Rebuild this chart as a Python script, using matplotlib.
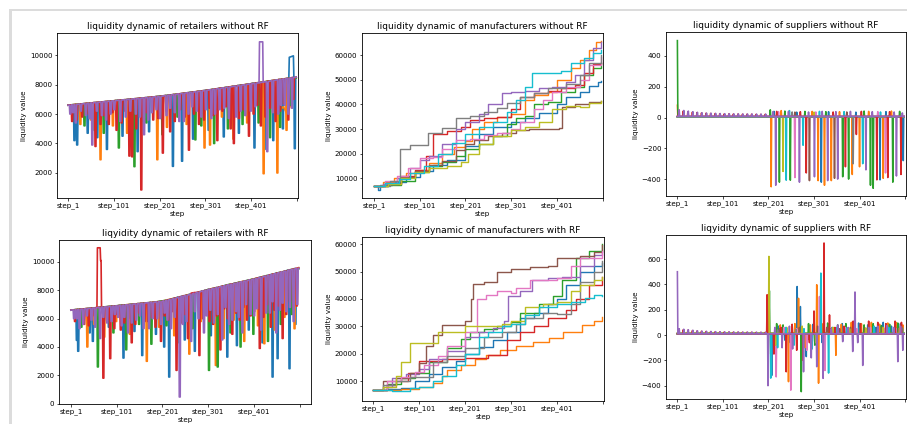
import matplotlib
matplotlib.use("Agg")
import matplotlib.pyplot as plt
from matplotlib.patches import Rectangle

# -----------------------------
# 1. Data
# -----------------------------

step_ticks = [0, 100, 200, 300, 400, 500]
step_labels = ["step_1", "step_101", "step_201", "step_301", "step_401", ""]

# retailers: each dip is (step, level just before the dip, bottom of the dip)
ret_norf_blue = [(13, 6640, 4200), (19, 6660, 3900), (42, 6730, 4700), (63, 6790, 4400),
                 (84, 6850, 3600), (118, 6950, 4500), (151, 7050, 3450), (176, 7130, 4800),
                 (228, 7310, 2450), (248, 7390, 2800), (272, 7490, 4300), (306, 7630, 4900),
                 (339, 7780, 4450), (372, 7930, 4700), (406, 8090, 3700), (428, 8190, 3600),
                 (447, 8280, 4200), (468, 8370, 5000), (494, 8490, 3650)]
ret_norf_orange = [(26, 6680, 5300), (49, 6750, 5600), (70, 6810, 2900), (97, 6890, 5200),
                   (128, 6980, 4700), (160, 7080, 5500), (194, 7180, 2900), (215, 7260, 5100),
                   (258, 7430, 5300), (297, 7590, 3700), (309, 7640, 3900), (335, 7760, 5800),
                   (360, 7880, 4300), (390, 8010, 5400), (426, 8180, 1950), (456, 8320, 2000),
                   (476, 8410, 4900)]
ret_norf_green = [(35, 6700, 5200), (57, 6770, 4900), (77, 6830, 4700), (110, 6930, 3700),
                  (138, 7010, 5000), (144, 7030, 2430), (170, 7110, 5400), (205, 7220, 4600),
                  (238, 7350, 5800), (277, 7510, 4250), (290, 7560, 5200), (318, 7680, 4000),
                  (348, 7820, 5000), (380, 7970, 5300), (415, 8130, 5400), (440, 8240, 4400),
                  (462, 8340, 5100), (484, 8440, 6600)]
ret_norf_red = [(8, 6620, 5500), (30, 6690, 5800), (59, 6780, 3800), (88, 6860, 5300),
                (105, 6920, 4900), (133, 7000, 3150), (139, 7020, 3100), (159, 7080, 850),
                (185, 7160, 5600), (206, 7220, 3350), (222, 7290, 4800), (263, 7450, 3550),
                (285, 7540, 5300), (325, 7720, 4200), (354, 7850, 5000), (361, 7880, 4000),
                (394, 8030, 4500), (420, 8150, 5200), (452, 8300, 5500), (480, 8420, 5600),
                (491, 8480, 7000)]
ret_norf_red_shallow = [(18, 6655, 5600), (44, 6730, 6000), (70, 6810, 5300), (78, 6835, 5900),
                        (96, 6890, 6100), (116, 6950, 5400), (124, 6970, 6200), (148, 7045, 5000),
                        (170, 7110, 6100), (196, 7190, 5700), (214, 7255, 6200), (232, 7330, 5500),
                        (244, 7375, 6300), (254, 7415, 5800), (274, 7495, 6000), (296, 7585, 5600),
                        (308, 7635, 6400), (316, 7675, 5900), (336, 7765, 6200), (344, 7800, 6500),
                        (372, 7930, 5700), (382, 7975, 6300), (404, 8080, 6000), (412, 8115, 6600),
                        (430, 8200, 5800), (440, 8245, 6400), (462, 8345, 6200), (470, 8380, 6700)]
ret_norf_purple = [(4, 6610, 6000), (16, 6650, 5400), (38, 6710, 5900), (52, 6760, 3900),
                   (73, 6820, 5900), (92, 6880, 6000), (113, 6940, 5500), (125, 6980, 5800),
                   (147, 7040, 6000), (165, 7100, 4600), (182, 7150, 6100), (200, 7200, 5700),
                   (232, 7330, 6100), (252, 7410, 5500), (280, 7520, 6200), (312, 7660, 5700),
                   (330, 7740, 6300), (366, 7900, 5800), (398, 8050, 6200), (434, 8200, 3450),
                   (458, 8330, 6000), (472, 8390, 6600), (488, 8460, 6400)]
ret_norf_purple_shallow = [(10, 6630, 6100), (27, 6680, 6200), (46, 6740, 5700), (62, 6790, 6200),
                           (82, 6850, 5600), (100, 6900, 6300), (135, 7005, 6200), (156, 7070, 5800),
                           (174, 7120, 5600), (192, 7175, 6300), (214, 7255, 5900), (222, 7290, 6400),
                           (242, 7370, 5500), (262, 7450, 6000), (270, 7480, 6500), (290, 7560, 5800),
                           (300, 7600, 6300), (320, 7690, 6000), (340, 7785, 6400), (350, 7830, 5700),
                           (376, 7950, 6200), (386, 7995, 5900), (408, 8095, 6500), (446, 8270, 6100),
                           (464, 8355, 6600), (480, 8430, 6000)]
ret_norf_end = [8500, 8450, 8450, 8500, 8500]
# plateaus that leave the trend
ret_norf_blue_jump = [(482, 8440), (483, 9850), (492, 9950), (493, 8480)]
ret_norf_orange_low = [(460, 8330), (461, 6200), (470, 6500), (478, 6000), (486, 6600), (487, 8450)]
ret_norf_purple_jump = [(417, 8130), (418, 10900), (425, 10900), (426, 8160)]

ret_rf_blue = [(12, 6640, 4470), (15, 6650, 3700), (40, 6720, 5000), (47, 6750, 4400),
               (82, 6850, 5400), (114, 6950, 3220), (138, 7030, 5100), (155, 7080, 3400),
               (185, 7170, 4900), (203, 7250, 4000), (214, 7340, 1880), (248, 7620, 4500),
               (270, 7800, 3700), (305, 8090, 4800), (341, 8360, 3290), (362, 8520, 4100),
               (388, 8710, 5200), (418, 8950, 4300), (440, 9130, 1880), (451, 9220, 3180),
               (477, 9430, 2470), (490, 9540, 5600)]
ret_rf_orange = [(35, 6710, 4000), (50, 6760, 5600), (72, 6820, 4700), (98, 6900, 5800),
                 (128, 7000, 4900), (165, 7110, 2990), (192, 7200, 5400), (225, 7430, 4800),
                 (258, 7700, 3500), (283, 7910, 5800), (316, 8170, 2700), (333, 8300, 4600),
                 (355, 8460, 5900), (378, 8640, 4400), (408, 8870, 5500), (422, 8980, 4235),
                 (445, 9160, 5200), (466, 9330, 6100), (488, 9500, 5290)]
ret_rf_green = [(22, 6670, 5400), (58, 6780, 2590), (92, 6890, 5000), (120, 6970, 3800),
                (148, 7060, 5600), (175, 7140, 4200), (208, 7290, 5500), (236, 7520, 4300),
                (265, 7750, 5300), (301, 8060, 2350), (320, 8200, 2590), (348, 8430, 5000),
                (370, 8580, 4000), (398, 8790, 4900), (430, 9050, 4400), (458, 9270, 5600),
                (482, 9470, 6300)]
ret_rf_red = [(28, 6690, 5600), (70, 6820, 1800), (85, 6860, 3180), (108, 6930, 5200),
              (132, 7010, 4300), (160, 7090, 5800), (196, 7210, 4400), (230, 7470, 2350),
              (255, 7660, 4600), (280, 7880, 3400), (310, 8130, 5600), (326, 8250, 3800),
              (352, 8460, 4900), (384, 8680, 5900), (412, 8900, 3900), (436, 9100, 5400),
              (462, 9300, 4600), (493, 9560, 6900)]
ret_rf_red_shallow = [(8, 6625, 5800), (16, 6650, 6100), (38, 6720, 5500), (46, 6745, 6200),
                      (78, 6840, 5900), (94, 6890, 5300), (100, 6910, 6300), (116, 6960, 5700),
                      (124, 6985, 6000), (140, 7035, 5600), (148, 7060, 6400), (168, 7120, 5800),
                      (176, 7145, 6100), (184, 7170, 5400), (204, 7255, 6200), (212, 7320, 5900),
                      (220, 7385, 6500), (240, 7550, 5700), (248, 7620, 6300), (288, 7950, 6000),
                      (296, 8020, 6600), (302, 8065, 5800), (318, 8185, 6200), (334, 8305, 6700),
                      (342, 8365, 6000), (360, 8500, 6400), (368, 8560, 5900), (376, 8620, 6800),
                      (392, 8740, 6200), (400, 8800, 6500), (420, 8965, 6100), (428, 9030, 7000),
                      (444, 9160, 6600), (452, 9225, 6900), (470, 9375, 6300), (478, 9440, 7200),
                      (486, 9505, 6700)]
ret_rf_purple = [(6, 6620, 6000), (18, 6660, 5300), (44, 6740, 5900), (63, 6800, 4600),
                 (78, 6840, 5700), (102, 6910, 6100), (124, 6980, 5000), (142, 7040, 5900),
                 (170, 7130, 5300), (188, 7180, 6000), (218, 7370, 5300), (237, 7530, 470),
                 (244, 7590, 5600), (262, 7730, 4400), (290, 7970, 5000), (296, 8020, 6200),
                 (330, 8280, 4500), (345, 8400, 5600), (374, 8610, 5000), (392, 8740, 6300),
                 (415, 8920, 5200), (426, 9010, 6400), (448, 9190, 5000), (470, 9360, 6500),
                 (486, 9490, 5800), (494, 9550, 7000)]
ret_rf_purple_shallow = [(12, 6640, 6000), (26, 6680, 5600), (34, 6705, 6200), (52, 6760, 5400),
                         (70, 6815, 6100), (88, 6875, 5800), (95, 6895, 6300), (110, 6940, 5500),
                         (116, 6960, 6100), (132, 7010, 5700), (150, 7065, 6200), (158, 7090, 5300),
                         (178, 7150, 6000), (196, 7210, 5600), (204, 7255, 6400), (210, 7305, 5900),
                         (226, 7435, 6100), (252, 7650, 5800), (270, 7800, 6500), (278, 7870, 6000),
                         (304, 8080, 6600), (312, 8140, 5700), (320, 8200, 6300), (337, 8330, 6800),
                         (352, 8440, 5900), (360, 8500, 6500), (366, 8545, 6100), (382, 8665, 7000),
                         (400, 8800, 6200), (406, 8850, 6700), (434, 9080, 6400), (440, 9130, 7200),
                         (456, 9260, 6600), (462, 9310, 7100), (478, 9440, 6800)]
ret_rf_end = [9550, 9600, 9500, 9580, 9560]
ret_rf_red_jump = [(57, 6780), (58, 11000), (64, 11000), (65, 10100), (66, 10100), (67, 6820)]
ret_rf_red_bump = [(262, 7700), (263, 7800), (272, 7850), (273, 7790)]

# manufacturers: (step, value) where the stepped line moves to a new level
man_norf = [
    [(0, 6700), (10, 5200), (14, 7000), (40, 8500), (70, 10500), (100, 13000), (130, 15500),
     (160, 17500), (200, 23000), (230, 28000), (260, 31000), (300, 33000), (330, 34500),
     (360, 36500), (400, 40000), (420, 43000), (450, 45000), (470, 47500), (490, 49000), (497, 49500)],
    [(0, 6700), (20, 8500), (45, 10000), (70, 12000), (100, 13500), (120, 16000), (150, 20000),
     (175, 22500), (200, 25000), (215, 30000), (240, 33000), (270, 35000), (300, 36000),
     (330, 42000), (350, 44000), (380, 45000), (400, 50000), (430, 55000), (450, 58000),
     (470, 62000), (485, 65500), (497, 66000)],
    [(0, 6700), (30, 7000), (60, 9000), (90, 12500), (120, 15000), (150, 16500), (180, 19000),
     (200, 22000), (230, 24000), (260, 27000), (290, 32000), (310, 34500), (330, 35500),
     (350, 40000), (380, 41000), (410, 45000), (440, 47000), (460, 52000), (480, 55000), (497, 57000)],
    [(0, 6700), (25, 8000), (60, 11000), (90, 13500), (115, 19000), (130, 28000), (160, 29000),
     (190, 31000), (210, 33500), (240, 34500), (270, 35000), (300, 38000), (320, 43000),
     (350, 44500), (380, 45500), (410, 46500), (440, 48000), (460, 53000), (480, 56500), (497, 57000)],
    [(0, 6700), (20, 7500), (50, 10000), (80, 14000), (100, 17500), (120, 19000), (150, 24000),
     (180, 30000), (200, 33000), (230, 36000), (250, 40000), (280, 44500), (300, 45000),
     (330, 45500), (360, 46500), (390, 47000), (420, 49000), (440, 52000), (460, 58000),
     (480, 63000), (497, 65500)],
    [(0, 6700), (30, 7500), (60, 10500), (90, 13000), (120, 15500), (150, 17000), (180, 21500),
     (200, 24000), (220, 25500), (250, 27000), (280, 28500), (310, 29500), (340, 30000),
     (405, 30500), (412, 39000), (440, 40000), (470, 41000), (497, 41500)],
    [(0, 6700), (25, 9000), (50, 11000), (75, 14000), (100, 18000), (130, 18500), (150, 22000),
     (180, 25500), (210, 26000), (240, 27500), (270, 28500), (300, 30000), (320, 33000),
     (350, 38000), (370, 42000), (390, 45000), (420, 47000), (450, 50000), (470, 56000), (497, 59500)],
    [(0, 6700), (35, 9000), (57, 22000), (80, 23500), (118, 28500), (150, 30500), (180, 34500),
     (210, 35500), (240, 37000), (270, 38500), (290, 40500), (320, 43000), (350, 44500),
     (380, 46500), (420, 48500), (450, 52000), (470, 57000), (497, 60000)],
    [(0, 6700), (30, 7500), (60, 10000), (90, 12500), (120, 14000), (160, 15000), (190, 16500),
     (205, 20000), (230, 24000), (260, 27000), (300, 29500), (330, 31000), (360, 33000),
     (390, 38000), (420, 39500), (450, 39000), (470, 40500), (497, 41500)],
    [(0, 6700), (25, 8000), (55, 9500), (80, 12000), (110, 15000), (140, 20000), (170, 24500),
     (200, 28000), (230, 31000), (260, 33000), (290, 37000), (310, 42000), (330, 47000),
     (345, 53000), (410, 53500), (430, 57000), (460, 59000), (480, 61000), (497, 62000)],
]

man_rf = [
    [(0, 6700), (30, 7000), (60, 7500), (90, 10000), (120, 12500), (150, 15000), (180, 17500),
     (200, 20000), (230, 22500), (260, 25000), (290, 28000), (320, 33000), (350, 35000),
     (380, 38000), (400, 40000), (420, 45000), (450, 50000), (480, 52000), (497, 53000)],
    [(0, 6700), (60, 7000), (100, 8000), (130, 9500), (150, 12000), (160, 14000), (190, 16000),
     (220, 18000), (246, 19500), (275, 21300), (311, 22900), (347, 24400), (383, 25600),
     (412, 28000), (455, 30500), (480, 32000), (497, 33500)],
    [(0, 6700), (30, 9000), (60, 11000), (90, 13000), (120, 17000), (160, 22000), (190, 25500),
     (210, 28000), (240, 29000), (270, 30000), (300, 31500), (320, 35000), (360, 38000),
     (390, 41000), (410, 47000), (440, 55000), (470, 57500), (497, 60000)],
    [(0, 6700), (30, 8500), (50, 10000), (75, 13000), (100, 17500), (150, 18000), (200, 18500),
     (250, 19500), (290, 25000), (320, 28000), (350, 30000), (380, 33000), (420, 36000),
     (440, 40000), (470, 45000), (497, 48000)],
    [(0, 6700), (20, 8000), (40, 11000), (70, 12500), (100, 14500), (120, 18000), (160, 21000),
     (200, 26000), (230, 28000), (260, 29500), (285, 32000), (292, 41000), (320, 43000),
     (345, 47000), (380, 47500), (410, 48000), (450, 52000), (480, 56000), (497, 57000)],
    [(0, 6700), (20, 10000), (50, 11000), (80, 13000), (100, 16500), (115, 23000), (130, 27000),
     (150, 30500), (200, 32000), (212, 40000), (217, 45500), (240, 46000), (270, 50000),
     (300, 51000), (340, 51500), (380, 52000), (400, 55000), (450, 55500), (480, 57000), (497, 59500)],
    [(0, 6700), (30, 10000), (60, 11500), (90, 13500), (110, 16000), (140, 19000), (160, 23000),
     (200, 28000), (225, 40000), (245, 41500), (270, 43000), (300, 42000), (310, 44000),
     (340, 47000), (400, 47500), (430, 52000), (450, 55000), (497, 57500)],
    [(0, 6700), (20, 8500), (50, 10000), (80, 11500), (130, 17000), (160, 19000), (200, 22000),
     (240, 26000), (280, 28000), (310, 31000), (330, 33000), (370, 35000), (400, 34500),
     (430, 38000), (450, 46000), (480, 50000), (497, 54000)],
    [(0, 6700), (20, 8000), (50, 12000), (60, 17000), (80, 24000), (130, 24000), (140, 28000),
     (200, 30000), (280, 31000), (300, 32000), (330, 37000), (370, 38000), (400, 39000),
     (430, 43000), (450, 45000), (480, 47000), (497, 48000)],
    [(0, 6700), (40, 6500), (80, 7500), (100, 8000), (130, 10000), (150, 12000), (180, 16000),
     (200, 20000), (230, 26000), (250, 28000), (280, 30000), (300, 31000), (330, 34000),
     (360, 37000), (400, 38000), (430, 39000), (460, 40500), (480, 41500), (497, 41000)],
]

# suppliers: (step, value) one-step spikes away from a flat base
early_purple = [(4, 50), (14, 46), (24, 42), (34, 38), (44, 34), (54, 31), (64, 29), (74, 28),
                (84, 27), (94, 26), (104, 25), (114, 25), (124, 24), (134, 24), (144, 23),
                (154, 23), (164, 23), (174, 22), (184, 22), (194, 22)]
early_red = [(3, 46), (13, 42), (23, 38), (33, 35), (43, 32), (53, 30), (63, 28), (73, 27),
             (83, 26), (93, 25), (103, 24), (113, 24), (123, 23), (133, 23), (143, 22),
             (153, 22), (163, 22), (173, 21), (183, 21), (193, 21)]

sup_norf = [
    [(212, 40), (262, 35), (316, -420), (332, 38), (392, 35), (445, -405), (458, 38), (496, -280)],
    [(0, 80), (206, -450), (228, 45), (296, 40), (309, -410), (323, -440), (338, -410), (356, 38),
     (384, -370), (400, -320), (420, 40), (452, -395), (470, 42)],
    [(0, 500), (204, 50), (224, -420), (236, 42), (248, -407), (280, 40), (326, 38), (363, -385),
     (376, -400), (410, 42), (424, -440), (430, -460), (473, -420), (488, 40)],
    early_red + [(218, 40), (270, 38), (283, -360), (342, 36), (369, -320), (393, -110),
                 (404, 40), (438, -405), (462, -390), (466, 38), (491, -370)],
    early_purple + [(210, 38), (216, -440), (244, 40), (268, -420), (288, 36), (301, -385),
                    (318, 40), (330, -410), (348, 38), (352, -400), (380, 40), (414, -340),
                    (428, 38), (476, 36), (481, -380), (494, 30)],
    [(258, 35), (290, -410), (345, -395), (372, 36)],
    [(222, 38), (258, -390), (304, 36), (440, 38), (457, -360)],
    [(252, 36), (386, -300)],
    [(232, -350), (300, 35)],
    [(239, -407), (246, 45), (276, -180), (312, 40), (366, 38), (407, -300), (446, 36)],
]
sup_norf_base = [5, 6, 5, 7, 8, 5, 5, 5, 5, 5]

sup_rf = [
    [(207, -320), (222, 70), (236, -40), (255, -60), (263, 383), (270, 225), (283, -170),
     (298, 85), (318, -60), (340, 60), (362, 90), (376, 50), (398, 95), (418, 80), (436, 60),
     (452, 100), (470, 70), (490, 90)],
    [(205, -150), (226, 80), (244, -368), (258, 90), (266, 290), (280, -100), (292, 80),
     (306, 397), (310, -380), (320, 90), (348, -160), (360, 85), (382, 100), (404, 90),
     (426, 100), (444, 85), (462, 95), (480, 100), (495, 80)],
    [(202, 350), (218, 90), (232, 80), (250, -50), (272, -447), (288, 90), (302, -80), (316, 85),
     (330, 95), (352, 80), (370, 90), (390, 85), (410, 80), (430, 90), (448, 75), (466, 85),
     (484, 95)],
    early_red + [(197, 318), (212, -150), (228, 60), (239, -290), (252, 85), (262, -120),
                 (276, -200), (290, -60), (300, 190), (322, 727), (334, 159), (346, 60),
                 (366, 70), (386, 110), (402, 90), (420, 110), (440, 100), (458, 90),
                 (478, 110), (492, 100)],
    early_purple + [(0, 500), (199, -400), (214, 60), (230, -100), (246, 70), (253, -110),
                    (277, -290), (294, -180), (306, -250), (320, -342), (338, 50), (352, 80),
                    (363, -52), (375, 60), (385, -130), (390, 340), (396, -60), (407, -240),
                    (420, 60), (440, 70), (460, 75), (475, 60), (484, -210), (490, 70),
                    (495, -120)],
    [(224, 50), (248, -60), (268, 60), (286, -40), (308, 70), (328, 60), (356, 50), (380, 60),
     (412, 55), (450, 60), (486, 50)],
    [(217, -330), (234, 60), (249, -435), (262, 50), (284, -120), (312, 304), (324, -280),
     (344, 40), (368, 60), (394, 50), (424, 60), (456, 55), (480, 50)],
    [(220, 40), (260, 45), (296, -60), (336, 50), (372, 45), (416, 40), (460, 45)],
    [(201, 621), (216, -80), (240, 60), (274, 70), (304, -60), (342, 60), (378, 50), (414, 55),
     (452, 60), (488, 55)],
    [(205, -340), (220, -100), (238, 60), (256, -80), (278, 50), (296, -110), (315, 489),
     (332, -300), (350, 60), (372, 55), (400, 60), (432, 70), (464, 60), (494, 55)],
]
sup_rf_base = [10, 12, 14, 10, 10, 10, 10, 10, 12, 10]

# -----------------------------
# 2. Helpers
# -----------------------------

W, H = 907, 424
colors = plt.rcParams["axes.prop_cycle"].by_key()["color"]


def place(left, right, top, bottom):
    return [left / W, 1 - bottom / H, (right - left) / W, (bottom - top) / H]


def dip_line(dips, end_value, start=6600, last=498):
    xs, ys = [0], [start]
    for s, top, low in sorted(dips):
        xs += [s - 1, s, s + 2, s + 3]
        ys += [top, low, low, top]
    xs.append(last)
    ys.append(end_value)
    return xs, ys


def spike_line(events, base, last=498):
    xs, ys = [0], [base]
    for s, v in sorted(events):
        if s == 0:
            ys[0] = v
            xs.append(1)
            ys.append(base)
            continue
        xs += [s - 1, s, s + 1]
        ys += [base, v, base]
    xs.append(last)
    ys.append(base)
    return xs, ys


def style(ax, title, xlim, ylim, yticks):
    ax.set_xlim(*xlim)
    ax.set_ylim(*ylim)
    ax.set_xticks(step_ticks)
    ax.set_xticklabels(step_labels)
    ax.set_yticks(yticks)
    ax.set_title(title, fontsize=6.5, pad=3)
    ax.set_xlabel("step", fontsize=5.1, labelpad=1.0)
    ax.set_ylabel("liquidity value", fontsize=5.1, labelpad=2)
    ax.tick_params(labelsize=5.1, length=1.8, width=0.5, pad=1.6)
    for sp in ax.spines.values():
        sp.set_linewidth(0.6)


# -----------------------------
# 3. Figure
# -----------------------------

fig = plt.figure(figsize=(W / 100, H / 100), dpi=100)
fig.add_artist(Rectangle((10 / W, 413 / H), 897 / W, 2 / H, transform=fig.transFigure,
                         color="#dcdcdc", lw=0))
fig.add_artist(Rectangle((9 / W, 0), 3 / W, 415 / H, transform=fig.transFigure,
                         color="#dcdcdc", lw=0))

lw = 1.0
lw_ret = 1.2
lw_sup = 1.15

# retailers without RF
ax = fig.add_axes(place(57, 298, 33, 198))
norf_sets = [ret_norf_blue, ret_norf_orange, ret_norf_green,
             ret_norf_red + ret_norf_red_shallow, ret_norf_purple + ret_norf_purple_shallow]
for i, dips in enumerate(norf_sets):
    xs, ys = dip_line(dips, ret_norf_end[i])
    ax.plot(xs, ys, color=colors[i], lw=lw_ret)
    if i == 0:
        ax.plot(*zip(*ret_norf_blue_jump), color=colors[0], lw=lw_ret)
    if i == 1:
        ax.plot(*zip(*ret_norf_orange_low), color=colors[1], lw=lw_ret)
ax.plot(*zip(*ret_norf_purple_jump), color=colors[4], lw=lw_ret)
style(ax, "liquidity dynamic of retailers without RF", (-24, 502), (300, 11500),
      [2000, 4000, 6000, 8000, 10000])

# manufacturers without RF
ax = fig.add_axes(place(362, 603, 33, 198))
for i, pts in enumerate(man_norf):
    ax.plot(*zip(*pts), color=colors[i], lw=lw, drawstyle="steps-post")
style(ax, "liquidity dynamic of manufacturers without RF", (-26, 501), (1900, 69100),
      [10000, 20000, 30000, 40000, 50000, 60000])

# suppliers without RF
ax = fig.add_axes(place(666, 906, 32, 196))
for i, ev in enumerate(sup_norf):
    xs, ys = spike_line(ev, sup_norf_base[i])
    ax.plot(xs, ys, color=colors[i], lw=lw_sup, zorder=3 if i in (3, 4) else 2)
style(ax, "liquidity dynamic of suppliers without RF", (-25, 502), (-510, 556),
      [-400, -200, 0, 200, 400])

# retailers with RF
ax = fig.add_axes(place(59, 311, 240, 404))
rf_sets = [ret_rf_blue, ret_rf_orange, ret_rf_green,
           ret_rf_red + ret_rf_red_shallow, ret_rf_purple + ret_rf_purple_shallow]
for i, dips in enumerate(rf_sets):
    xs, ys = dip_line(dips, ret_rf_end[i])
    ax.plot(xs, ys, color=colors[i], lw=lw_ret)
    if i == 3:
        ax.plot(*zip(*ret_rf_red_jump), color=colors[3], lw=lw_ret)
        ax.plot(*zip(*ret_rf_red_bump), color=colors[3], lw=lw_ret)
style(ax, "liqyidity dynamic of retailers with RF", (-26, 525), (-25, 11550),
      [0, 2000, 4000, 6000, 8000, 10000])

# manufacturers with RF
ax = fig.add_axes(place(362, 604, 237, 401))
for i, pts in enumerate(man_rf):
    ax.plot(*zip(*pts), color=colors[i], lw=lw, drawstyle="steps-post")
style(ax, "liqyidity dynamic of manufacturers with RF", (-25, 502), (2750, 62600),
      [10000, 20000, 30000, 40000, 50000, 60000])

# suppliers with RF
ax = fig.add_axes(place(666, 906, 235, 399))
for i, ev in enumerate(sup_rf):
    xs, ys = spike_line(ev, sup_rf_base[i])
    ax.plot(xs, ys, color=colors[i], lw=lw_sup, zorder=3 if i in (3, 4) else 2)
style(ax, "liqyidity dynamic of suppliers with RF", (-25, 502), (-505, 790),
      [-400, -200, 0, 200, 400, 600])

fig.savefig("out.png", dpi=100)
